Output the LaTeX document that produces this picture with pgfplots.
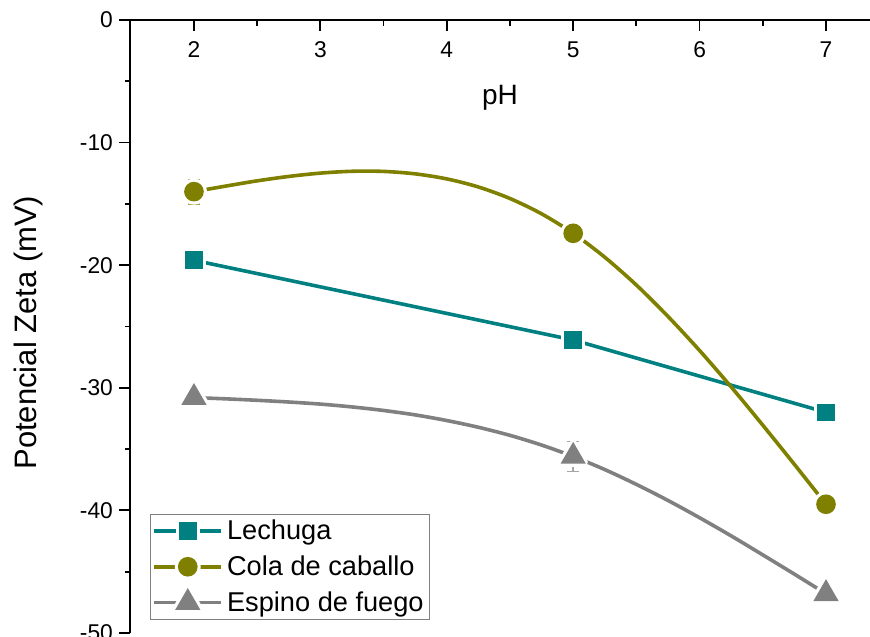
\documentclass[border=0pt]{standalone}
\usepackage{fontspec}
\setmainfont{Liberation Sans}
\usepackage{pgfplots}
\pgfplotsset{compat=1.18}
\definecolor{cTeal}{RGB}{0,128,128}
\definecolor{cOlive}{RGB}{128,128,0}
\definecolor{cGray}{RGB}{128,128,128}
\pgfplotsset{legend image code/.code={%
  \draw[#1,sharp plot] (0pt,0pt) -- (33.5pt,0pt);
  \path[#1,only marks,mark options={draw=white,fill=white,line width=5pt,line join=round}] plot coordinates {(16.75pt,0pt)};
  \path[#1,only marks] plot coordinates {(16.75pt,0pt)};}}
\begin{document}
\begin{tikzpicture}
\begin{axis}[
  scale only axis, width=370pt, height=306.5pt,
  xmin=1.494, xmax=7.348, ymin=-50, ymax=0,
  axis x line=top, axis y line=left,
  axis line style={-, line width=0.9pt},
  tick align=inside, major tick length=5.5pt, minor tick length=3pt,
  tick style={line width=0.9pt, black},
  xtick={2,3,4,5,6,7}, xticklabels={2,3,4,5,6,7},
  minor x tick num=1,
  ytick={0,-10,-20,-30,-40,-50}, yticklabels={0,-10,-20,-30,-40,-50},
  minor y tick num=1,
  major y tick style={xshift=-5.5pt},
  minor y tick style={xshift=-2.5pt},
  xticklabel style={anchor=north, yshift=-7.5pt, font=\fontsize{11.4}{13}\selectfont},
  yticklabel style={xshift=-5pt, font=\fontsize{11.4}{13}\selectfont},
  xlabel={pH},
  xlabel style={at={(axis description cs:0.5,1)}, anchor=north, yshift=-29pt, font=\fontsize{14}{16}\selectfont},
  ylabel={Potencial Zeta (mV)},
  ylabel style={at={(axis description cs:-0.1378,0.49)}, anchor=center, font=\fontsize{15.5}{18}\selectfont},
  legend style={at={(axis cs:1.652,-48.9)}, anchor=south west, draw=gray, line width=0.5pt,
    font=\fontsize{13.6}{15}\selectfont, inner xsep=1pt, inner ysep=0.5pt, row sep=2.6pt,
    cells={anchor=west}},
]
\coordinate (bl) at (rel axis cs:0,0);
\coordinate (tr) at (rel axis cs:1,1);
% connecting curves
\addplot[cTeal, line width=1.8pt, forget plot] coordinates {(2,-19.6)(5,-26.1)(7,-32.0)};
\addplot[cOlive, line width=1.8pt, smooth, forget plot] coordinates {
 (2,-14.00)(2.25,-13.55)(2.5,-13.12)(2.75,-12.76)(3,-12.49)(3.25,-12.34)(3.5,-12.35)
 (3.75,-12.55)(4,-12.96)(4.25,-13.62)(4.5,-14.56)(4.75,-15.81)(5,-17.40)
 (5.25,-19.35)(5.5,-21.62)(5.75,-24.18)(6,-26.96)(6.25,-29.93)(6.5,-33.05)(6.75,-36.25)(7,-39.5)};
\addplot[cGray, line width=1.8pt, smooth, forget plot] coordinates {
 (2,-30.8)(2.25,-30.90)(2.5,-31.02)(2.75,-31.16)(3,-31.33)(3.25,-31.56)(3.5,-31.85)
 (3.75,-32.21)(4,-32.67)(4.25,-33.22)(4.5,-33.88)(4.75,-34.67)(5,-35.6)
 (5.25,-36.67)(5.5,-37.88)(5.75,-39.19)(6,-40.6)(6.25,-42.08)(6.5,-43.63)(6.75,-45.20)(7,-46.8)};
% white halos that open a gap in the lines around each marker
\addplot[only marks, forget plot, mark=square*, mark size=3.5pt,
  mark options={draw=white, fill=white, line width=5pt, line join=round}]
  coordinates {(2,-19.6)(5,-26.1)(7,-32.0)};
\addplot[only marks, forget plot, mark=*, mark size=4pt,
  mark options={draw=white, fill=white, line width=5pt}]
  coordinates {(2,-14.0)(5,-17.4)(7,-39.5)};
\addplot[only marks, forget plot, mark=triangle*, mark size=5.5pt,
  mark options={draw=white, fill=white, line width=5pt, line join=round}]
  coordinates {(2,-30.8)(5,-35.6)(7,-46.8)};
% markers with error bars
\addplot[cTeal, line width=1.8pt, only marks, mark=square*, mark size=3.5pt,
  mark options={draw=none, fill=cTeal},
  error bars/.cd, y dir=both, y explicit,
  error bar style={line width=0.7pt, cTeal!70},
  error mark options={line width=0.7pt, cTeal!70, mark size=3pt, rotate=90}]
  coordinates {(2,-19.6) +- (0,0.3) (5,-26.1) +- (0,0.3) (7,-32.0) +- (0,0.85)};
\addlegendentry{Lechuga}
\addplot[cOlive, line width=1.8pt, only marks, mark=*, mark size=4pt,
  mark options={draw=none, fill=cOlive},
  error bars/.cd, y dir=both, y explicit,
  error bar style={line width=0.7pt, cOlive!70},
  error mark options={line width=0.7pt, cOlive!70, mark size=3pt, rotate=90}]
  coordinates {(2,-14.0) +- (0,1.0) (5,-17.4) +- (0,0.3) (7,-39.5) +- (0,0.87)};
\addlegendentry{Cola de caballo}
\addplot[cGray, line width=1.8pt, only marks, mark=triangle*, mark size=5.5pt,
  mark options={draw=none, fill=cGray},
  error bars/.cd, y dir=both, y explicit,
  error bar style={line width=0.7pt, cGray!70},
  error mark options={line width=0.7pt, cGray!70, mark size=3pt, rotate=90}]
  coordinates {(2,-30.8) +- (0,0.7) (5,-35.6) +- (0,1.22) (7,-46.8) +- (0,0.55)};
\addlegendentry{Espino de fuego}
\end{axis}
\pgfresetboundingbox
\path[use as bounding box] ([xshift=-65pt,yshift=-2pt]bl) rectangle ([yshift=10pt]tr);
\end{tikzpicture}
\end{document}
